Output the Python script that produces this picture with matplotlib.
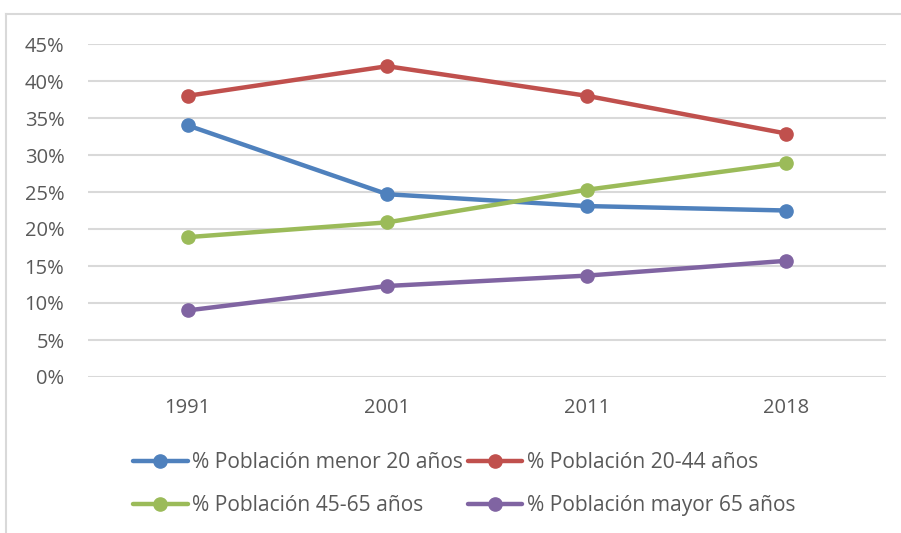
import matplotlib.pyplot as plt
from matplotlib.lines import Line2D
from matplotlib.ticker import PercentFormatter

years = ['1991', '2001', '2011', '2018']
menor_20 = [34.0, 24.7, 23.1, 22.5]
de_20_44 = [38.0, 42.0, 38.0, 32.9]
de_45_65 = [18.9, 20.9, 25.3, 28.9]
mayor_65 = [9.0, 12.3, 13.7, 15.7]

labels = ['% Población menor 20 años', '% Población 20-44 años',
          '% Población 45-65 años', '% Población mayor 65 años']
colors = ['#4F81BD', '#C0504D', '#9BBB59', '#8064A2']

plt.rcParams['font.family'] = ['Open Sans', 'DejaVu Sans']
txt = '#595959'

W, H = 901, 533
fig = plt.figure(figsize=(W / 100, H / 100), dpi=100)
ax = fig.add_axes([88 / W, (H - 377) / H, (886 - 88) / W, (377 - 44) / H])

x = range(len(years))
series = [menor_20, de_20_44, de_45_65, mayor_65]
handles = []
for vals, lab, c in zip(series, labels, colors):
    h, = ax.plot(x, vals, color=c, lw=3.2, marker='o', ms=9.5, label=lab,
                 solid_capstyle='round')
    handles.append(h)

ax.set_xlim(-0.5, len(years) - 0.5)
ax.set_ylim(0, 45)
ax.set_yticks(range(0, 50, 5))
ax.yaxis.set_major_formatter(PercentFormatter(decimals=0))
ax.set_xticks(list(x))
ax.set_xticklabels(years)
ax.grid(axis='y', color='#D9D9D9', lw=1.5)
ax.set_axisbelow(True)
for s in ax.spines.values():
    s.set_visible(False)
ax.tick_params(length=0, labelsize=14.5, labelcolor=txt)
ax.tick_params(axis='y', pad=17)
ax.tick_params(axis='x', pad=15)

# chart border (cropped at right and bottom)
bc = '#D9D9D9'
fig.add_artist(Line2D([6 / W, 6 / W], [0, (H - 14) / H], color=bc, lw=1.5))
fig.add_artist(Line2D([6 / W, 1], [(H - 14) / H, (H - 14) / H], color=bc, lw=1.5))

# legend fills by column, so reorder to read row by row
order = [0, 2, 1, 3]
fig.legend([handles[i] for i in order], [labels[i] for i in order],
           loc='center left', bbox_to_anchor=(133 / W, (H - 484) / H),
           ncol=2, frameon=False, fontsize=15.1, labelcolor=txt,
           handlelength=2.6, handletextpad=0.2, columnspacing=0.25,
           labelspacing=1.05, borderpad=0, borderaxespad=0)

fig.savefig('out.png', dpi=100)
